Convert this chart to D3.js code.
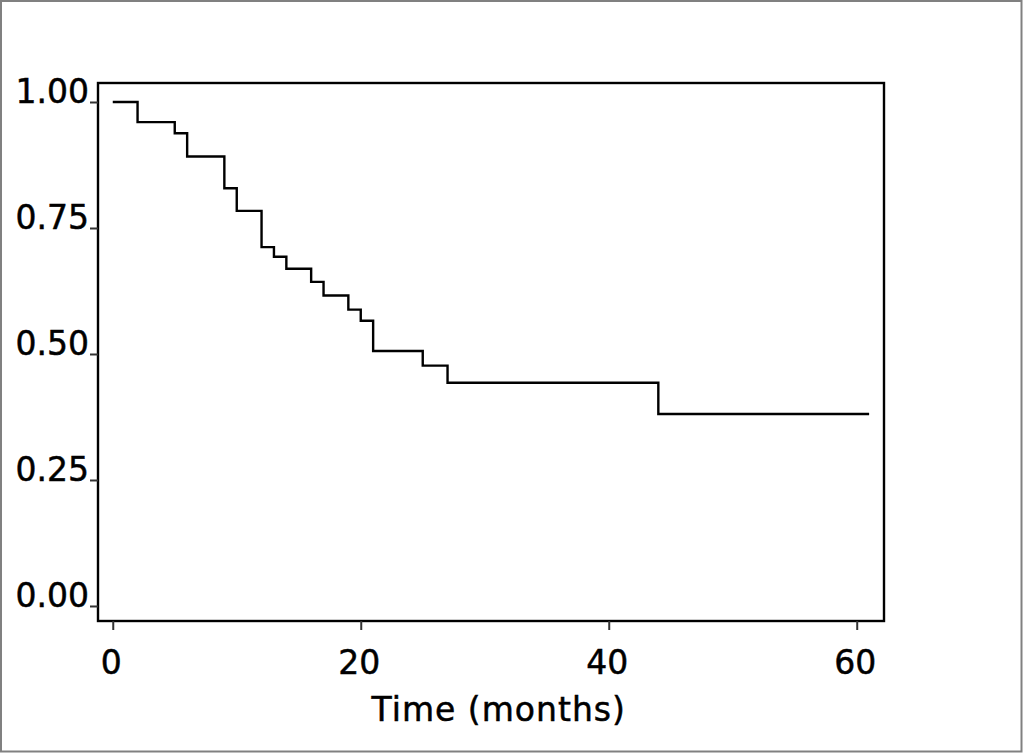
<!DOCTYPE html>
<html>
<head>
<meta charset="utf-8">
<script src="https://cdn.jsdelivr.net/npm/d3@7/dist/d3.min.js"></script>
<style>
  html, body { margin: 0; padding: 0; background: #fff; }
  svg { display: block; }
  text { font-family: "DejaVu Sans", Verdana, sans-serif; fill: #000; }
</style>
</head>
<body>
<svg id="chart" width="1023" height="753"></svg>
<script>
// Kaplan-Meier step curve (time in months, survival probability)
const stepTimes    = [0, 2, 5, 6, 9, 10, 12, 13, 14, 16, 17, 19, 20, 21, 25, 27, 44, 61];
const stepSurvival = [1.000, 0.960, 0.938, 0.892, 0.829, 0.784, 0.712, 0.693, 0.669, 0.643, 0.616, 0.588, 0.566, 0.506, 0.477, 0.443, 0.381, 0.381];
const xTicks = [0, 20, 40, 60];
const yTicks = [0.00, 0.25, 0.50, 0.75, 1.00];
const xDomain = [-1.19, 62.2];
const yDomain = [-0.0298, 1.0377];
const xTitle = "Time (months)";

(function () {
const svg = d3.select("#chart");
const W = 1023, H = 753;
const mLeft = 98, mRight = 884, mTop = 83, mBottom = 621;

svg.append("rect").attr("x", 0).attr("y", 0).attr("width", W).attr("height", H).attr("fill", "#fff");
// outer grey border
svg.append("rect").attr("x", 1).attr("y", 1).attr("width", 1020.5).attr("height", 750.5)
  .attr("fill", "none").attr("stroke", "#808080").attr("stroke-width", 2);

const x = d3.scaleLinear().domain(xDomain).range([mLeft, mRight]);
const y = d3.scaleLinear().domain(yDomain).range([mBottom, mTop]);

// frame
svg.append("rect").attr("x", mLeft).attr("y", mTop).attr("width", mRight - mLeft).attr("height", mBottom - mTop)
  .attr("fill", "none").attr("stroke", "#000").attr("stroke-width", 2.4);

// y axis
const yAxis = svg.append("g").attr("transform", `translate(${mLeft},0)`)
  .call(d3.axisLeft(y).tickValues(yTicks).tickSize(8).tickPadding(1).tickFormat(d3.format(".2f")));
yAxis.select(".domain").remove();
yAxis.selectAll(".tick line").attr("stroke", "#333").attr("stroke-width", 2);
yAxis.selectAll(".tick text").attr("font-size", 33).attr("dy", "0.02em").attr("fill", "#000")
  .attr("stroke", "#000").attr("stroke-width", 0.5)
  .attr("font-family", "DejaVu Sans, Verdana, sans-serif");

// x axis
const xAxis = svg.append("g").attr("transform", `translate(0,${mBottom})`)
  .call(d3.axisBottom(x).tickValues(xTicks).tickSize(9).tickPadding(21).tickFormat(d3.format("d")));
xAxis.select(".domain").remove();
xAxis.selectAll(".tick line").attr("stroke", "#333").attr("stroke-width", 2);
xAxis.selectAll(".tick text").attr("font-size", 33).attr("fill", "#000").attr("dx", -2)
  .attr("stroke", "#000").attr("stroke-width", 0.5)
  .attr("font-family", "DejaVu Sans, Verdana, sans-serif");

// curve
const pts = stepTimes.map((t, i) => [t, stepSurvival[i]]);
const line = d3.line().x(d => x(d[0])).y(d => y(d[1])).curve(d3.curveStepAfter);
svg.append("path").datum(pts).attr("d", line).attr("fill", "none")
  .attr("stroke", "#000").attr("stroke-width", 2.4);

// x title
svg.append("text").attr("x", (x(0) + x(60)) / 2 + 14).attr("y", 721)
  .attr("text-anchor", "middle").attr("font-size", 33).attr("letter-spacing", 1)
  .attr("stroke", "#000").attr("stroke-width", 0.5)
  .text(xTitle);
})();
</script>
</body>
</html>
